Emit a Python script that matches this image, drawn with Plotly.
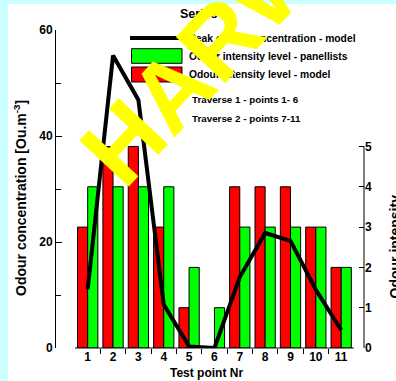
import plotly.graph_objects as go

# ---------------- data ----------------
points = [1, 2, 3, 4, 5, 6, 7, 8, 9, 10, 11]
conc_model = [11.1, 55.2, 46.8, 8.2, 0.3, 0.0, 13.4, 21.7, 20.2, 11.0, 3.4]
intensity_model = [3, 5, 5, 3, 1, 0, 4, 4, 4, 3, 2]
intensity_panel = [4, 4, 4, 4, 2, 1, 3, 3, 3, 3, 2]
x_tick_labels = [str(p) for p in points]
left_ticks = [0, 20, 40, 60]
right_ticks = [0, 1, 2, 3, 4, 5]

# ---------------- layout helpers ----------------
W, H = 396, 381
ML, MR, MT, MB = 56, 32, 30, 33
PW, PH = W - ML - MR, H - MT - MB
FONT = "Liberation Sans, Arial, sans-serif"


def px(x):
    return (x - ML) / PW


def py(y):
    return (H - MB - y) / PH


fig = go.Figure()

fig.add_trace(go.Bar(
    x=points, y=intensity_model, name="Odour intensity level - model",
    marker=dict(color="#ff0000", line=dict(color="black", width=1)),
    yaxis="y", showlegend=False))
fig.add_trace(go.Bar(
    x=points, y=intensity_panel, name="Odour intensity level - panellists",
    marker=dict(color="#00ff00", line=dict(color="black", width=1)),
    yaxis="y", showlegend=False))
fig.add_trace(go.Scatter(
    x=points, y=conc_model, name="Peak odour concentration - model",
    mode="lines", line=dict(color="black", width=4),
    yaxis="y2", showlegend=False))

shapes = [
    # white panel over cyan page
    dict(type="rect", xref="paper", yref="paper", x0=px(8), x1=px(420),
         y0=py(420), y1=py(4), fillcolor="white", line=dict(width=0), layer="below"),
    # x axis line from 0.5 to 11.5
    dict(type="line", xref="x", yref="paper", x0=0.5, x1=11.5, y0=0, y1=0,
         line=dict(color="black", width=1)),
    # right axis line 0..5
    dict(type="line", xref="paper", yref="y", x0=1, x1=1, y0=0, y1=5,
         line=dict(color="black", width=1)),
    # legend symbols
    dict(type="line", xref="paper", yref="paper", x0=px(130), x1=px(183),
         y0=py(38), y1=py(38), line=dict(color="black", width=4)),
    dict(type="rect", xref="paper", yref="paper", x0=px(131.5), x1=px(182),
         y0=py(63.3), y1=py(48.7), fillcolor="#00ff00", line=dict(color="black", width=1)),
    dict(type="rect", xref="paper", yref="paper", x0=px(131.5), x1=px(182),
         y0=py(82), y1=py(67), fillcolor="#ff0000", line=dict(color="black", width=1)),
]

ann = []


def txt(t, x, y, size, xanchor="left", angle=0, family=FONT, color="black", bold=True):
    ann.append(dict(text=("<b>%s</b>" % t) if bold else t, xref="paper", yref="paper",
                    x=px(x), y=py(y), xanchor=xanchor, yanchor="middle",
                    showarrow=False, textangle=angle,
                    font=dict(family=family, size=size, color=color)))


txt("Series G", 205, 14.5, 12.5, xanchor="center")
txt("Peak odour concentration - model", 187, 38, 10.3)
txt("Odour intensity level - panellists", 187, 56.5, 10.3)
txt("Odour intensity level - model", 187, 74, 10.3)
txt("Traverse 1 - points 1- 6", 190, 99.3, 9.8)
txt("Traverse 2 - points 7-11", 190, 118.3, 9.8)
txt("Odour concentration [Ou.m<sup>-3</sup>]", 20, 198, 14, xanchor="center", angle=-90)
txt("Odour intensity", 394, 246.5, 14, xanchor="center", angle=-90)
txt("Test point Nr", 206, 373, 12, xanchor="center")
# watermark
txt("HARW", 203, 57, 98, xanchor="center", angle=-47, color="#ffff00", bold=True)

tickfont = dict(family=FONT, size=12, color="black", weight="bold")

fig.update_layout(
    width=W, height=H,
    margin=dict(l=ML, r=MR, t=MT, b=MB, pad=0),
    paper_bgcolor="#ccffff", plot_bgcolor="white",
    barmode="group", bargap=0.2, bargroupgap=0,
    xaxis=dict(range=[-0.25, 11.9], tickmode="array", tickvals=points,
               ticktext=x_tick_labels, ticks="", showline=False,
               showgrid=False, zeroline=False, tickfont=tickfont,
               minor=dict(tickmode="array", tickvals=[p + 0.5 for p in points[:-1]],
                          ticks="outside", ticklen=5, tickcolor="black", showgrid=False)),
    yaxis=dict(side="right", range=[0, 7.89], tickmode="array", tickvals=right_ticks,
               ticks="inside", ticklen=5, tickcolor="black", showline=False,
               showgrid=False, zeroline=False, tickfont=tickfont),
    yaxis2=dict(side="left", overlaying="y", range=[0, 60], tickmode="array",
                tickvals=left_ticks, ticks="inside", ticklen=6, tickcolor="black",
                showline=True, linecolor="black", linewidth=1,
                showgrid=False, zeroline=False, tickfont=tickfont,
                minor=dict(tickmode="array", tickvals=[10, 30, 50], ticks="inside",
                           ticklen=5, tickcolor="black", showgrid=False)),
    shapes=shapes, annotations=ann,
)

fig.write_html("out.html", config={"displayModeBar": False},
               post_script="document.body.style.margin='0';")
